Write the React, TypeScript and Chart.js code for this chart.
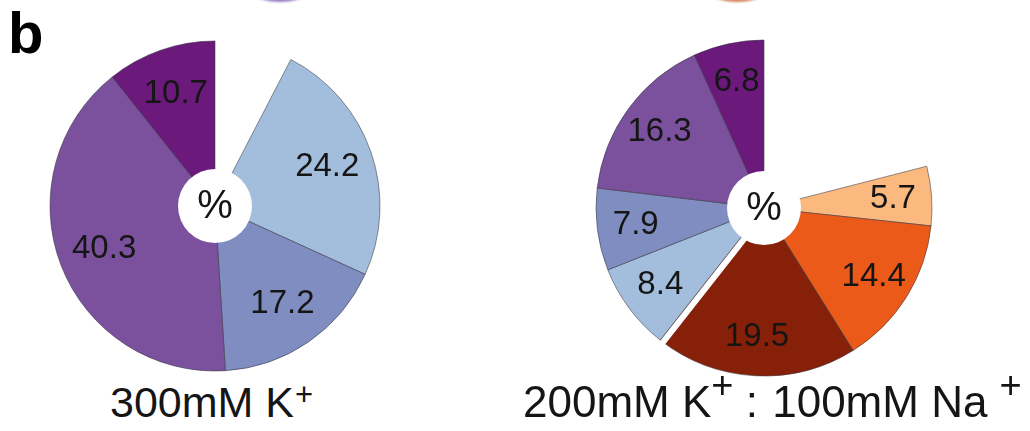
import React, { useEffect, useRef } from 'react';
import { Chart, registerables } from 'chart.js';

Chart.register(...registerables);

// ---- Data (percentages, clockwise starting after the empty gap at the top) ----
const leftCategories = ['light blue', 'blue-violet', 'violet', 'dark purple'];
const leftValues = [24.2, 17.2, 40.3, 10.7];
const leftColors = ['#A3BEDC', '#7F8DC0', '#7B519D', '#6B197B'];

const rightCategories = ['light orange', 'orange', 'dark red', 'light blue', 'blue-violet', 'violet', 'dark purple'];
const rightValues = [5.7, 14.4, 19.5, 8.4, 7.9, 16.3, 6.8];
const rightColors = ['#FCB97F', '#EB5A18', '#872008', '#A3BEDC', '#7F8DC0', '#7B519D', '#6B197B'];

const centerSymbol = '%';
const panelLetter = 'b';

const FONT = '"Liberation Sans", Arial, Helvetica, sans-serif';

const sliceLabelPlugin = {
  id: 'sliceLabels',
  afterDatasetsDraw(chart: any, _args: any, opts: any) {
    const meta = chart.getDatasetMeta(0);
    const ctx = chart.ctx as CanvasRenderingContext2D;
    const values = chart.data.datasets[0].data as number[];
    const arcs = meta.data as any[];
    if (!arcs.length) return;
    ctx.save();
    // white separation stripe (detached slice)
    if (opts.separatorAfter !== undefined && opts.separatorAfter !== null) {
      const el = arcs[opts.separatorAfter];
      const a = el.endAngle;
      const ux = Math.cos(a), uy = Math.sin(a);
      const nx = Math.sin(a), ny = -Math.cos(a);
      const off = 3.5;
      ctx.strokeStyle = '#ffffff';
      ctx.lineWidth = 6;
      ctx.lineCap = 'butt';
      ctx.beginPath();
      ctx.moveTo(el.x + nx * off, el.y + ny * off);
      ctx.lineTo(el.x + ux * (el.outerRadius + 4) + nx * off, el.y + uy * (el.outerRadius + 4) + ny * off);
      ctx.stroke();
    }
    // value labels
    ctx.fillStyle = '#151515';
    ctx.font = `33px ${FONT}`;
    ctx.textAlign = 'center';
    ctx.textBaseline = 'middle';
    arcs.forEach((el, i) => {
      const mid = (el.startAngle + el.endAngle) / 2;
      const r = el.outerRadius * opts.labelRadius;
      ctx.fillText(String(values[i]), el.x + Math.cos(mid) * r, el.y + Math.sin(mid) * r);
    });
    // centre hole with symbol
    const c = arcs[0];
    ctx.fillStyle = '#ffffff';
    ctx.beginPath();
    ctx.arc(c.x, c.y, opts.hole, 0, Math.PI * 2);
    ctx.fill();
    ctx.fillStyle = '#151515';
    ctx.font = `40px ${FONT}`;
    ctx.fillText(opts.symbol, c.x, c.y + 1);
    ctx.restore();
  },
};

type PieProps = {
  labels: string[];
  values: number[];
  colors: string[];
  radius: number;
  size: number;
  left: number;
  top: number;
  labelRadius: number;
  separatorAfter?: number;
};

function GapPie({ labels, values, colors, radius, size, left, top, labelRadius, separatorAfter }: PieProps) {
  const ref = useRef<HTMLCanvasElement>(null);
  useEffect(() => {
    const total = values.reduce((a, b) => a + b, 0);
    const chart = new Chart(ref.current as HTMLCanvasElement, {
      type: 'pie',
      data: {
        labels,
        datasets: [
          {
            data: values,
            backgroundColor: colors,
            borderColor: 'rgba(55,55,65,0.55)',
            borderWidth: 1,
          },
        ],
      },
      options: {
        responsive: false,
        animation: false,
        devicePixelRatio: 1,
        events: [],
        rotation: (100 - total) * 3.6,
        circumference: total * 3.6,
        radius,
        layout: { padding: 0 },
        plugins: {
          legend: { display: false },
          tooltip: { enabled: false },
          sliceLabels: { labelRadius, separatorAfter, hole: 37, symbol: centerSymbol },
        } as any,
      } as any,
      plugins: [sliceLabelPlugin as any],
    });
    return () => chart.destroy();
  }, []);
  return (
    <canvas
      ref={ref}
      width={size}
      height={size}
      style={{ position: 'absolute', left, top, width: size, height: size }}
    />
  );
}

export default function App() {
  const titleStyle: React.CSSProperties = {
    position: 'absolute',
    fontFamily: FONT,
    color: '#151515',
    whiteSpace: 'pre',
  };
  return (
    <div
      style={{
        position: 'absolute',
        left: 0,
        top: 0,
        width: 1030,
        height: 431,
        overflow: 'hidden',
        background: '#ffffff',
      }}
    >
      {/* remnants of the panel above */}
      <div style={{ position: 'absolute', left: 254, top: -16, width: 52, height: 18, borderRadius: '50%', background: '#9a7cc6', filter: 'blur(1px)' }} />
      <div style={{ position: 'absolute', left: 711, top: -16, width: 52, height: 18, borderRadius: '50%', background: '#d6825c', filter: 'blur(1px)' }} />

      <div
        style={{
          position: 'absolute',
          left: 8,
          top: 4,
          fontFamily: FONT,
          fontWeight: 'bold',
          fontSize: 58,
          lineHeight: '58px',
          color: '#000',
        }}
      >
        {panelLetter}
      </div>

      <GapPie labels={leftCategories} values={leftValues} colors={leftColors} radius={165} size={340} left={45} top={36} labelRadius={0.72} />
      <GapPie labels={rightCategories} values={rightValues} colors={rightColors} radius={168} size={346} left={591} top={35} labelRadius={0.77} separatorAfter={2} />

      <div style={{ ...titleStyle, left: 110, top: 381, fontSize: 43, lineHeight: '43px' }}>
        300mM K
        <span style={{ fontSize: 31, position: 'relative', top: -12, marginLeft: 1 }}>+</span>
      </div>
      <div style={{ ...titleStyle, left: 523, top: 380, fontSize: 44, lineHeight: '44px' }}>
        200mM K
        <span style={{ fontSize: 38, position: 'relative', top: -19 }}>+</span>
        <span> : </span>
        <span style={{ marginLeft: 2 }}>100mM Na </span>
        <span style={{ fontSize: 38, position: 'relative', top: -19 }}>+</span>
      </div>
    </div>
  );
}
